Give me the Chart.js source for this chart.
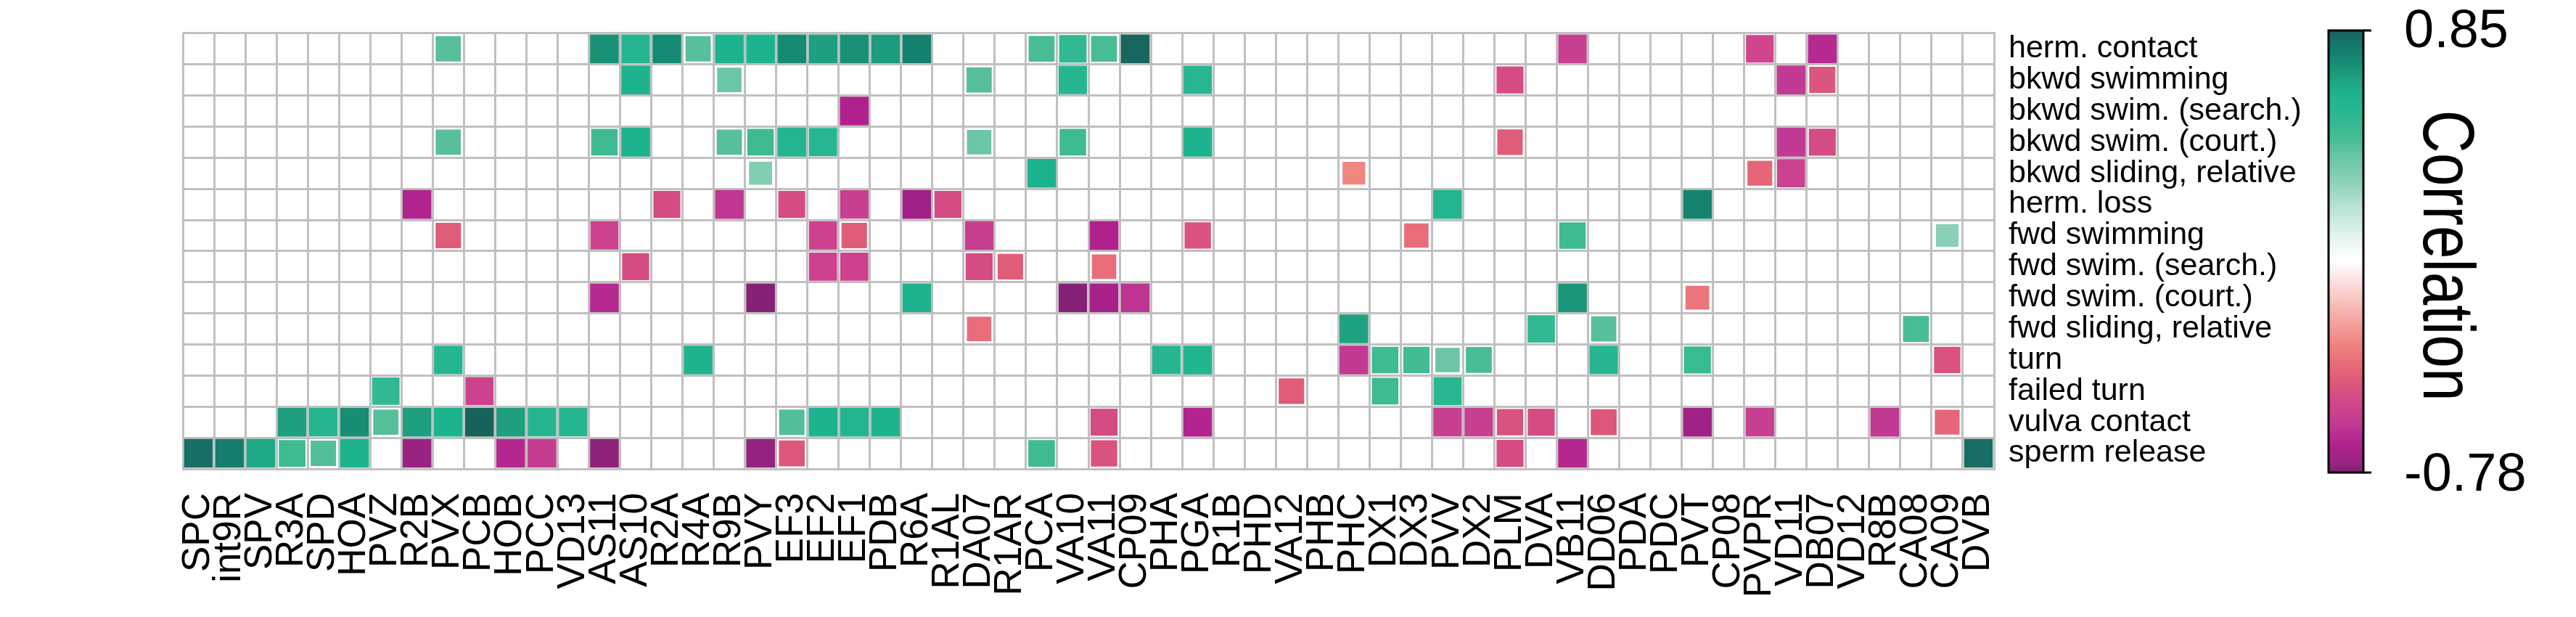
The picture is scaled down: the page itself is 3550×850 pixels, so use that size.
<!DOCTYPE html>
<html>
<head>
<meta charset="utf-8">
<script src="https://cdn.jsdelivr.net/npm/chart.js@4.4.1/dist/chart.umd.min.js"></script>
<style>
  html, body { margin: 0; padding: 0; background: #fff; }
  #wrap { position: relative; width: 3550px; height: 850px; }
</style>
</head>
<body>
<div id="wrap"><canvas id="heat" width="3550" height="850"></canvas></div>
<script>
const neurons = ['SPC', 'int9R', 'SPV', 'R3A', 'SPD', 'HOA', 'PVZ', 'R2B', 'PVX', 'PCB', 'HOB', 'PCC', 'VD13',
    'AS11', 'AS10', 'R2A', 'R4A', 'R9B', 'PVY', 'EF3', 'EF2', 'EF1', 'PDB', 'R6A', 'R1AL', 'DA07', 'R1AR',
    'PCA', 'VA10', 'VA11', 'CP09', 'PHA', 'PGA', 'R1B', 'PHD', 'VA12', 'PHB', 'PHC', 'DX1', 'DX3', 'PVV',
    'DX2', 'PLM', 'DVA', 'VB11', 'DD06', 'PDA', 'PDC', 'PVT', 'CP08', 'PVPR', 'VD11', 'DB07', 'VD12',
    'R8B', 'CA08', 'CA09', 'DVB'];

const behaviors = ['herm. contact', 'bkwd swimming', 'bkwd swim. (search.)', 'bkwd swim. (court.)',
    'bkwd sliding, relative', 'herm. loss', 'fwd swimming', 'fwd swim. (search.)', 'fwd swim. (court.)',
    'fwd sliding, relative', 'turn', 'failed turn', 'vulva contact', 'sperm release'];

// [neuron, correlation] per behaviour, only the coloured cells
const hermContact = [['PVX', 0.42], ['AS11', 0.72], ['AS10', 0.57], ['R2A', 0.74], ['R4A', 0.42], ['R9B', 0.62],
    ['PVY', 0.62], ['EF3', 0.74], ['EF2', 0.68], ['EF1', 0.72], ['PDB', 0.69], ['R6A', 0.77], ['PCA', 0.45],
    ['VA10', 0.52], ['VA11', 0.45], ['CP09', 0.84], ['VB11', -0.57], ['PVPR', -0.53], ['DB07', -0.65]];
const bkwdSwimming = [['AS10', 0.62], ['R9B', 0.38], ['DA07', 0.42], ['VA10', 0.57], ['PGA', 0.56],
    ['PLM', -0.5], ['VD11', -0.6], ['DB07', -0.46]];
const bkwdSwimSearch = [['EF1', -0.68]];
const bkwdSwimCourt = [['PVX', 0.42], ['AS11', 0.48], ['AS10', 0.62], ['R9B', 0.42], ['PVY', 0.48], ['EF3', 0.58],
    ['EF2', 0.56], ['DA07', 0.38], ['VA10', 0.48], ['PGA', 0.62], ['PLM', -0.43], ['VD11', -0.6], ['DB07', -0.5]];
const bkwdSliding = [['PVY', 0.32], ['PCA', 0.62], ['PHC', -0.3], ['PVPR', -0.4], ['VD11', -0.55]];
const hermLoss = [['R2B', -0.67], ['R2A', -0.5], ['R9B', -0.61], ['EF3', -0.5], ['EF1', -0.57], ['R6A', -0.72],
    ['R1AL', -0.5], ['PVV', 0.58], ['PVT', 0.76]];
const fwdSwimming = [['PVX', -0.43], ['AS11', -0.55], ['EF2', -0.55], ['EF1', -0.43], ['DA07', -0.57],
    ['VA11', -0.68], ['PGA', -0.47], ['DX3', -0.38], ['VB11', 0.48], ['CA09', 0.3]];
const fwdSwimSearch = [['AS10', -0.5], ['EF2', -0.55], ['EF1', -0.55], ['DA07', -0.5], ['R1AR', -0.43],
    ['VA11', -0.38]];
const fwdSwimCourt = [['AS11', -0.65], ['PVY', -0.77], ['R6A', 0.62], ['VA10', -0.77], ['VA11', -0.7],
    ['CP09', -0.62], ['VB11', 0.7], ['PVT', -0.35]];
const fwdSliding = [['DA07', -0.38], ['PHC', 0.67], ['DVA', 0.52], ['DD06', 0.42], ['CA08', 0.45]];
const turn = [['PVX', 0.57], ['R4A', 0.62], ['PHA', 0.57], ['PGA', 0.6], ['PHC', -0.6], ['DX1', 0.48],
    ['DX3', 0.47], ['PVV', 0.38], ['DX2', 0.45], ['DD06', 0.57], ['PVT', 0.5], ['CA09', -0.47]];
const failedTurn = [['PVZ', 0.52], ['PCB', -0.55], ['VA12', -0.43], ['DX1', 0.48], ['PVV', 0.55]];
const vulvaContact = [['R3A', 0.68], ['SPD', 0.57], ['HOA', 0.73], ['PVZ', 0.42], ['R2B', 0.68], ['PVX', 0.62],
    ['PCB', 0.85], ['HOB', 0.68], ['PCC', 0.57], ['VD13', 0.57], ['EF3', 0.43], ['EF2', 0.62], ['EF1', 0.58],
    ['PDB', 0.62], ['VA11', -0.5], ['PGA', -0.67], ['PVV', -0.57], ['DX2', -0.57], ['PLM', -0.47],
    ['DVA', -0.5], ['DD06', -0.45], ['PVT', -0.72], ['PVPR', -0.57], ['R8B', -0.6], ['CA09', -0.4]];
const spermRelease = [['SPC', 0.82], ['int9R', 0.78], ['SPV', 0.65], ['R3A', 0.48], ['SPD', 0.43], ['HOA', 0.62],
    ['R2B', -0.74], ['HOB', -0.66], ['PCC', -0.58], ['AS11', -0.76], ['PVY', -0.75], ['EF3', -0.45],
    ['PCA', 0.48], ['VA11', -0.47], ['PLM', -0.5], ['VB11', -0.66], ['DVB', 0.82]];

const rows = [hermContact, bkwdSwimming, bkwdSwimSearch, bkwdSwimCourt, bkwdSliding, hermLoss, fwdSwimming,
    fwdSwimSearch, fwdSwimCourt, fwdSliding, turn, failedTurn, vulvaContact, spermRelease];

const colorbarTicks = [-0.78, 0.85];

// colour map, sampled from the colour bar
const cmapValues = [-0.78, -0.74, -0.68, -0.60, -0.52, -0.45, -0.38, -0.30, -0.18, -0.06, 0.0,
    0.08, 0.20, 0.30, 0.38, 0.45, 0.55, 0.62, 0.68, 0.74, 0.79, 0.85];
const cmapColors = ['#7f2270', '#9a2382', '#b0218d', '#c13a94', '#d2478a', '#dd577a', '#e86c7a', '#f18580',
    '#f6b5b0', '#fce6e6', '#ffffff', '#e8f5f0', '#b8e3d3', '#8ad0b4', '#6bc6a5', '#48bc94', '#28b792',
    '#1db38e', '#1f9e80', '#158a72', '#147a6b', '#18625c'];

function hexToRgb(h) {
    const n = parseInt(h.slice(1), 16);
    return [(n >> 16) & 255, (n >> 8) & 255, n & 255];
}

function corrColor(v) {
    if (v <= cmapValues[0]) return cmapColors[0];
    for (let i = 1; i < cmapValues.length; i++) {
        if (v <= cmapValues[i]) {
            const t = (v - cmapValues[i - 1]) / (cmapValues[i] - cmapValues[i - 1]);
            const a = hexToRgb(cmapColors[i - 1]);
            const b = hexToRgb(cmapColors[i]);
            const c = a.map((x, k) => Math.round(x + (b[k] - x) * t));
            return `rgb(${c[0]}, ${c[1]}, ${c[2]})`;
        }
    }
    return cmapColors[cmapColors.length - 1];
}

// weaker correlations get a smaller square
function cellRadius(c) {
    const xs = c.chart.scales.x;
    const pitch = xs.width / neurons.length;
    const frac = Math.min(0.92, 0.515 + 0.7 * Math.abs(c.raw ? c.raw.v : 0));
    return pitch * frac / Math.SQRT2;
}

const cells = [];
rows.forEach((row, r) => {
    row.forEach(([n, v]) => cells.push({ x: n, y: behaviors[r], v: v }));
});

const FONT = "'Liberation Sans', Arial, sans-serif";

const colorbarPlugin = {
    id: 'colorbar',
    afterDraw(chart) {
        const ctx = chart.ctx;
        const top = 42, bottom = 651;
        const x0 = 3209, w = 48;
        const lo = colorbarTicks[0], hi = colorbarTicks[1];
        const grad = ctx.createLinearGradient(0, bottom, 0, top);
        cmapValues.forEach((v, i) => grad.addColorStop((v - lo) / (hi - lo), cmapColors[i]));
        ctx.save();
        ctx.fillStyle = grad;
        ctx.fillRect(x0, top, w, bottom - top);
        ctx.strokeStyle = '#000';
        ctx.lineWidth = 3;
        ctx.strokeRect(x0, top, w, bottom - top);
        ctx.beginPath();
        ctx.moveTo(x0 + w, top); ctx.lineTo(x0 + w + 11, top);
        ctx.moveTo(x0 + w, bottom); ctx.lineTo(x0 + w + 11, bottom);
        ctx.stroke();

        ctx.fillStyle = '#000';
        ctx.font = `74px ${FONT}`;
        ctx.textAlign = 'left';
        ctx.textBaseline = 'alphabetic';
        ctx.fillText(hi.toFixed(2), 3313, 65);
        ctx.fillText(lo.toFixed(2), 3313, 676);

        ctx.translate(3340, 352);
        ctx.rotate(Math.PI / 2);
        ctx.scale(0.82, 1);
        ctx.font = `100px ${FONT}`;
        ctx.textAlign = 'center';
        ctx.fillText('Correlation', 0, 0);
        ctx.restore();
    }
};

new Chart(document.getElementById('heat'), {
    type: 'scatter',
    data: {
        datasets: [{
            data: cells,
            pointStyle: 'rect',
            borderWidth: 0,
            backgroundColor: (c) => c.raw ? corrColor(c.raw.v) : '#fff',
            pointRadius: cellRadius,
            pointHoverRadius: cellRadius
        }]
    },
    options: {
        responsive: false,
        animation: false,
        events: [],
        devicePixelRatio: 1,
        layout: {
            padding: { left: 252, top: 43, right: 0, bottom: 0 }
        },
        scales: {
            x: {
                type: 'category',
                labels: neurons,
                offset: true,
                position: 'bottom',
                grid: { offset: true, color: '#c0c0c0', lineWidth: 3, drawTicks: false },
                border: { display: true, color: '#c0c0c0', width: 3 },
                ticks: {
                    autoSkip: false,
                    maxRotation: 90,
                    minRotation: 90,
                    padding: 33,
                    color: '#000',
                    font: { family: FONT, size: 53 }
                },
                afterFit: (scale) => { scale.height = 850 - 646; }
            },
            y: {
                type: 'category',
                labels: behaviors,
                offset: true,
                position: 'right',
                grid: { offset: true, color: '#c0c0c0', lineWidth: 3, drawTicks: false },
                border: { display: true, color: '#c0c0c0', width: 3 },
                ticks: {
                    autoSkip: false,
                    padding: 20,
                    color: '#000',
                    font: { family: FONT, size: 43 }
                },
                afterFit: (scale) => { scale.width = 3550 - 2748; }
            }
        },
        plugins: {
            legend: { display: false },
            tooltip: { enabled: false }
        }
    },
    plugins: [colorbarPlugin]
});
</script>
</body>
</html>
